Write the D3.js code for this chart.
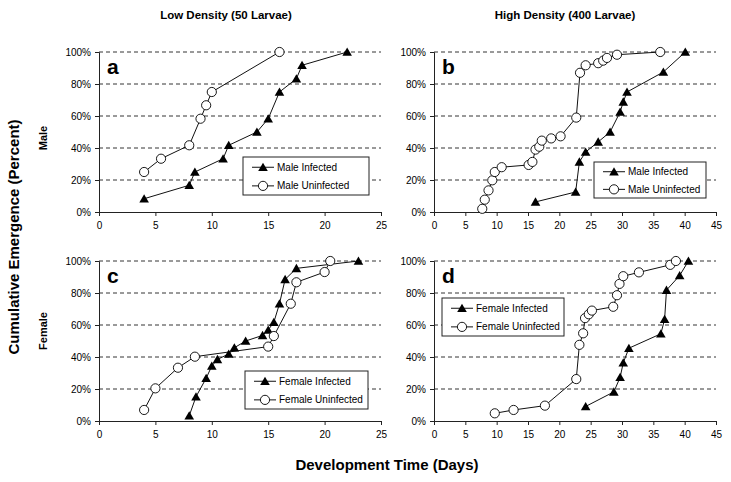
<!DOCTYPE html>
<html>
<head>
<meta charset="utf-8">
<script src="https://cdn.jsdelivr.net/npm/d3@7"></script>
<style>
  body { margin: 0; background: #fff; }
  svg { font-family: Arial, "Liberation Sans", sans-serif; }
  .grid line { stroke: #000; stroke-dasharray: 4,3; stroke-width: 0.8; }
  .axis path, .axis line { stroke: #222; }
  .axis text { font-size: 10px; fill: #000; }
  .series { fill: none; stroke: #111; stroke-width: 1; }
</style>
</head>
<body>
<svg width="731" height="482"></svg>
<script>
// panel a: low density, male
var aInfX = [4, 8, 8.5, 11, 11.5, 14, 15, 16, 17.5, 18, 22];
var aInfY = [8.3, 16.7, 25, 33.3, 41.7, 50, 58.3, 75, 83.3, 91.7, 100];
var aUninfX = [4, 5.5, 8, 9, 9.5, 10, 16];
var aUninfY = [25, 33.3, 41.7, 58.3, 66.7, 75, 100];

// panel b: high density, male
var bInfX = [16.2, 22.6, 23.2, 24.2, 26.2, 28.1, 29.7, 30.2, 30.8, 36.6, 40.1];
var bInfY = [6.3, 12.5, 31.3, 37.5, 43.8, 50, 62.5, 68.8, 75, 87.5, 100];
var bUninfX = [7.7, 8.1, 8.7, 9.3, 9.7, 10.8, 15.1, 15.7, 16.2, 16.8, 17.2, 18.7, 20.2, 22.7, 23.3, 24.2, 26.2, 27, 27.6, 29.2, 36.1];
var bUninfY = [2, 7.7, 13.5, 19.8, 25, 28, 29.4, 31.3, 39, 40.8, 44.6, 46, 47.3, 59, 87, 91.7, 93, 94.6, 96.3, 98.3, 100];

// panel c: low density, female
var cInfX = [8, 8.6, 9.5, 10, 10.5, 11.5, 12, 13, 14.5, 15, 15.5, 16, 16.5, 17.5, 23];
var cInfY = [3.3, 15.2, 26.7, 34.4, 38.5, 41.9, 45.8, 50, 53.5, 56.9, 61.7, 73.3, 88.5, 95.4, 100];
var cUninfX = [4, 5, 7, 8.5, 15, 15.5, 17, 17.5, 20, 20.5];
var cUninfY = [6.9, 20.4, 33.3, 40.2, 46.5, 53.1, 73.3, 86.7, 93.1, 100];

// panel d: high density, female
var dInfX = [24.2, 28.7, 29.7, 30.2, 31.1, 36.2, 36.8, 37.1, 39.2, 40.6];
var dInfY = [9.1, 18.2, 27.3, 36.4, 45.5, 54.5, 63.6, 81.8, 90.9, 100];
var dUninfX = [9.7, 12.7, 17.7, 22.7, 23.2, 23.8, 24.1, 24.7, 25.2, 28.6, 29.2, 29.6, 30.2, 32.7, 37.7, 38.6];
var dUninfY = [4.8, 6.9, 9.6, 26.2, 47.6, 54.8, 64.3, 66.7, 69, 71.4, 78.6, 85.7, 90.5, 92.9, 97.6, 100];

var yTicks = [0, 20, 40, 60, 80, 100];
var colTitles = ["Low Density (50 Larvae)", "High Density (400 Larvae)"];
var rowTitles = ["Male", "Female"];

function pts(xs, ys) { return xs.map(function(x, i){ return {x: x, y: ys[i]}; }); }

var panels = [
  {label: "a", xMax: 25, left: 99, top: 52, inf: pts(aInfX, aInfY), uninf: pts(aUninfX, aUninfY),
   names: ["Male Infected", "Male Uninfected"], legend: {x: 243, y: 157, w: 126, h: 38}},
  {label: "b", xMax: 45, left: 434, top: 52, inf: pts(bInfX, bInfY), uninf: pts(bUninfX, bUninfY),
   names: ["Male Infected", "Male Uninfected"], legend: {x: 594, y: 162, w: 112, h: 36}},
  {label: "c", xMax: 25, left: 99, top: 261, inf: pts(cInfX, cInfY), uninf: pts(cUninfX, cUninfY),
   names: ["Female Infected", "Female Uninfected"], legend: {x: 245, y: 371, w: 123, h: 38}},
  {label: "d", xMax: 45, left: 434, top: 261, inf: pts(dInfX, dInfY), uninf: pts(dUninfX, dUninfY),
   names: ["Female Infected", "Female Uninfected"], legend: {x: 442, y: 298, w: 122, h: 38}}
];

var svg = d3.select("svg"),
    pw = 282, ph = 160;

var tri = d3.symbol().type(d3.symbolTriangle).size(40);

panels.forEach(function(p) {
  var x = d3.scaleLinear().domain([0, p.xMax]).range([0, pw]),
      y = d3.scaleLinear().domain([0, 100]).range([ph, 0]);

  var g = svg.append("g").attr("transform", "translate(" + p.left + "," + p.top + ")");

  g.append("g").attr("class", "grid")
    .selectAll("line").data(yTicks.slice(1)).enter().append("line")
    .attr("x1", 0).attr("x2", pw)
    .attr("y1", function(d){ return y(d); }).attr("y2", function(d){ return y(d); });

  g.append("g").attr("class", "axis")
    .attr("transform", "translate(0," + ph + ")")
    .call(d3.axisBottom(x).ticks(p.xMax / 5).tickSize(4).tickPadding(6));

  g.append("g").attr("class", "axis")
    .call(d3.axisLeft(y).tickValues(yTicks).tickSize(4).tickPadding(4)
      .tickFormat(function(d){ return d + "%"; }));

  var line = d3.line().x(function(d){ return x(d.x); }).y(function(d){ return y(d.y); });

  g.append("path").attr("class", "series").attr("d", line(p.inf));
  g.append("path").attr("class", "series").attr("d", line(p.uninf));

  g.selectAll(".tri").data(p.inf).enter().append("path")
    .attr("transform", function(d){ return "translate(" + x(d.x) + "," + (y(d.y) + 1) + ")"; })
    .attr("d", tri).attr("fill", "#000");

  g.selectAll(".circ").data(p.uninf).enter().append("circle")
    .attr("cx", function(d){ return x(d.x); }).attr("cy", function(d){ return y(d.y); })
    .attr("r", 4.6).attr("fill", "#fff").attr("stroke", "#000").attr("stroke-width", 0.9);

  g.append("text").attr("x", 8).attr("y", 22)
    .style("font-size", "21px").style("font-weight", "bold").text(p.label);

  // legend
  var L = p.legend,
      lg = svg.append("g").attr("transform", "translate(" + L.x + "," + L.y + ")");
  lg.append("rect").attr("width", L.w).attr("height", L.h)
    .attr("fill", "#fff").attr("stroke", "#222").attr("stroke-width", 1);
  var rows = [L.h * 0.27, L.h * 0.76];
  rows.forEach(function(ry, i) {
    lg.append("line").attr("x1", 9).attr("x2", 31).attr("y1", ry).attr("y2", ry)
      .attr("stroke", "#111");
    if (i === 0) {
      lg.append("path").attr("d", tri).attr("transform", "translate(20," + (ry + 1) + ")");
    } else {
      lg.append("circle").attr("cx", 20).attr("cy", ry).attr("r", 4.6)
        .attr("fill", "#fff").attr("stroke", "#000").attr("stroke-width", 0.9);
    }
    lg.append("text").attr("x", 34).attr("y", ry).attr("dy", "0.35em")
      .style("font-size", "10px").text(p.names[i]);
  });
});

// titles
svg.selectAll(".coltitle").data(colTitles).enter().append("text")
  .attr("x", function(d, i){ return i ? 565 : 226; }).attr("y", 19)
  .attr("text-anchor", "middle").style("font-size", "11.5px").style("font-weight", "bold")
  .text(function(d){ return d; });

svg.selectAll(".rowtitle").data(rowTitles).enter().append("text")
  .attr("transform", function(d, i){ return "translate(47," + (i ? 331 : 138) + ") rotate(-90)"; })
  .attr("text-anchor", "middle").style("font-size", "11px").style("font-weight", "bold")
  .text(function(d){ return d; });

svg.append("text")
  .attr("transform", "translate(19,237) rotate(-90)")
  .attr("text-anchor", "middle").style("font-size", "15px").style("font-weight", "bold")
  .text("Cumulative Emergence (Percent)");

svg.append("text")
  .attr("x", 387).attr("y", 470)
  .attr("text-anchor", "middle").style("font-size", "15px").style("font-weight", "bold")
  .text("Development Time (Days)");
</script>
</body>
</html>
